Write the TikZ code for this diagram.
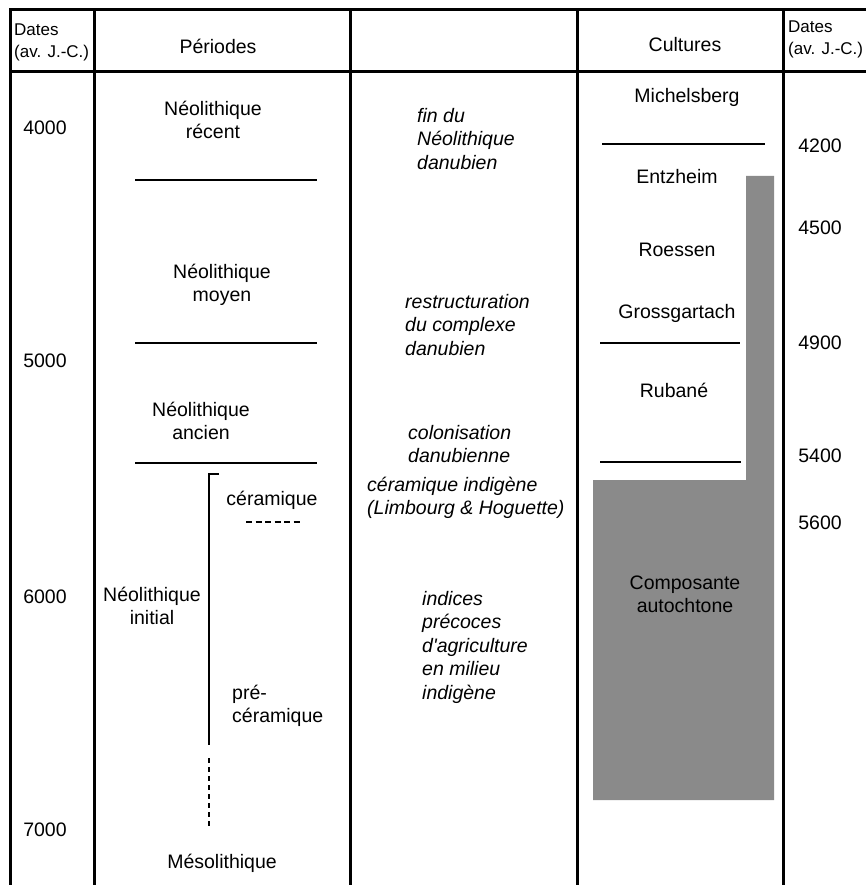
\documentclass[tikz,border=0pt]{standalone}
\usepackage{fontspec}
\setmainfont{Liberation Sans}[Ligatures=TeXOff]

\begin{document}
\begin{tikzpicture}[x=1pt, y=-1pt,
        rule/.style={line width=3pt},
        sepline/.style={line width=2.8pt},
        txt/.style={font=\fontsize{19.5}{23}\selectfont, inner sep=0pt, align=center},
        itxt/.style={font=\fontsize{19.5}{23.5}\selectfont\itshape, inner sep=0pt, align=left, anchor=west},
        hdr/.style={font=\fontsize{17}{22}\selectfont, inner sep=0pt, align=left, anchor=west}]
        \useasboundingbox (0,0) rectangle (866,885);

        % composante autochtone
        \fill[black!46] (746,176) -- (774,176) -- (774,800) -- (593,800) -- (593,480) -- (746,480) -- cycle;

        % cadre
        \draw[rule] (10,885) -- (10,10) -- (866,10);
        \draw[rule] (10,72) -- (866,72);
        \foreach \x in {94, 350, 577, 783}
            \draw[rule] (\x,10) -- (\x,885);

        % en-tetes
        \node[hdr] (hdl) at (14,42) {Dates\\(av. J.-C.)};
        \node[txt] (hper) at (218,46) {Périodes};
        \node[txt] (hcul) at (685,45) {Cultures};
        \node[hdr] (hdr) at (788,39) {Dates\\(av. J.-C.)};

        \foreach \d/\y in {4000/128, 5000/361, 6000/597, 7000/830}
            \node[txt] (l\d) at (45,\y) {\d};
        \foreach \d/\y in {4200/146, 4500/228, 4900/343, 5400/456, 5600/523}
            \node[txt] (r\d) at (820,\y) {\d};

        % periodes
        \node[txt] (recent) at (213,120) {Néolithique\\récent};
        \node[txt] (moyen) at (222,285) {Néolithique\\moyen};
        \node[txt] (ancien) at (201,421) {Néolithique\\ancien};
        \node[txt] (initial) at (152,606) {Néolithique\\initial};
        \node[txt] (ceram) at (272,500) {céramique};
        \node[txt, align=left, anchor=west] (preceram) at (232,706) {pré-\\céramique};
        \node[txt] (meso) at (222,863) {Mésolithique};

        \foreach \y in {180, 343, 463}
            \draw[sepline] (135,\y) -- (317,\y);
        \draw[line width=2.2pt] (219,474) -- (209,474) -- (209,745);
        \draw[line width=2.2pt, dash pattern=on 5pt off 4pt] (209,758) -- (209,828);
        \draw[line width=1.8pt, dash pattern=on 6pt off 3.5pt] (246,522) -- (302,522);

        % evenements
        \node[itxt] (fin) at (417,139) {fin du\\Néolithique\\danubien};
        \node[itxt] (restr) at (405,325) {restructuration\\du complexe\\danubien};
        \node[itxt] (colon) at (408,444) {colonisation\\danubienne};
        \node[itxt] (indig) at (367,498) {céramique indigène\\(Limbourg \& Hoguette)};
        \node[itxt] (indices) at (422,647) {indices\\précoces\\d'agriculture\\en milieu\\indigène};

        % cultures
        \node[txt] (michel) at (687,97) {Michelsberg};
        \node[txt] (entz) at (677,177) {Entzheim};
        \node[txt] (roess) at (677,250) {Roessen};
        \node[txt] (gross) at (677,313) {Grossgartach};
        \node[txt] (ruban) at (674,390) {Rubané};
        \node[txt] (compo) at (685,594) {Composante\\autochtone};

        \draw[sepline] (602,144) -- (765,144);
        \draw[sepline] (600,343) -- (740,343);
        \draw[sepline] (600,462) -- (741,462);
    \end{tikzpicture}
\end{document}
